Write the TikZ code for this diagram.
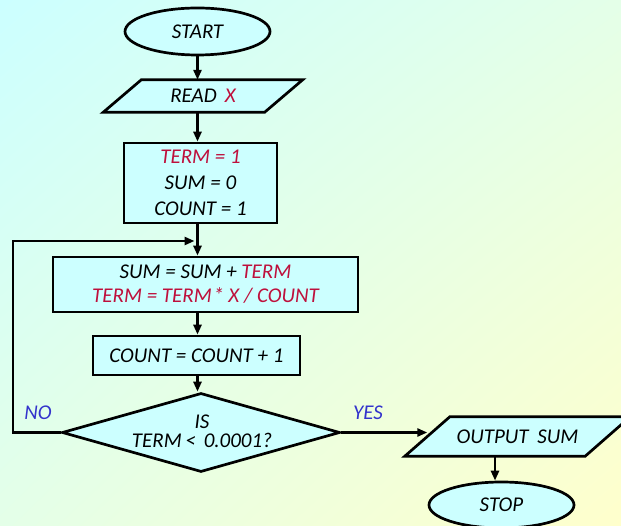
\documentclass[tikz,border=0pt]{standalone}
\usepackage{fontspec}
\setmainfont{Carlito}
\usetikzlibrary{shapes.geometric,arrows.meta,shadings,calc}

\definecolor{boxfill}{RGB}{204,255,255}
\definecolor{termred}{RGB}{190,16,60}
\definecolor{labelblue}{RGB}{51,51,204}
\definecolor{bgcyan}{RGB}{204,255,255}
\definecolor{bgmint}{RGB}{228,255,232}
\definecolor{bgyellow}{RGB}{255,255,204}

\newcommand{\hl}[1]{\textcolor{termred}{#1}}

\pgfdeclarelayer{back}
\pgfsetlayers{back,main}

\tikzset{
  outline/.style={draw=black, line width=2.7pt, fill=boxfill},
  flow/.style={outline, font=\itshape\fontsize{21}{25}\selectfont, align=center, inner sep=0pt},
  terminal/.style={flow, ellipse, minimum width=145pt, minimum height=47pt},
  process/.style={flow, rectangle},
  iotext/.style={rectangle, font=\itshape\fontsize{21}{25}\selectfont, inner sep=0pt},
  decision/.style={flow, diamond},
  txt/.style={font=\itshape\fontsize{21}{19}\selectfont, align=center, inner sep=0pt},
  ans/.style={font=\itshape\fontsize{21}{24}\selectfont, text=labelblue, inner sep=0pt},
  wire/.style={line width=2.7pt},
  link/.style={wire, -{Triangle[length=10pt,width=8pt]}},
}

% parallelogram behind an input/output node: #1 node name, #2 half slant
\newcommand{\ioframe}[2]{%
  \begin{pgfonlayer}{back}
    \filldraw[outline]
      ($(#1.north west)+(#2,0)$) -- ($(#1.north east)+(#2,0)$) --
      ($(#1.south east)+(-#2,0)$) -- ($(#1.south west)+(-#2,0)$) -- cycle;
  \end{pgfonlayer}}

\begin{document}
\begin{tikzpicture}[x=1pt, y=-1pt]
  % canvas and diagonal background wash
  \useasboundingbox (0,0) rectangle (621,526);
  \clip (0,0) rectangle (621,526);
  \begin{pgfonlayer}{back}
    \shade[upper left=bgcyan, upper right=bgmint, lower left=bgmint, lower right=bgyellow]
      (0,0) rectangle (621,526);
  \end{pgfonlayer}

  % flowchart blocks
  \node[terminal] (start) at (197.5,31.5) {START};
  \node[iotext, minimum width=161pt, minimum height=32pt] (read) at (203,96)
        {READ\hspace{8pt}\hl{X}};
  \ioframe{read}{19}
  \node[process, minimum width=153pt, minimum height=80pt,
        font=\itshape\fontsize{21}{26}\selectfont] (init) at (200.5,183)
        {\hl{TERM = 1}\\SUM = 0\\COUNT = 1};
  \node[process, minimum width=305pt, minimum height=55pt,
        font=\itshape\fontsize{21}{24}\selectfont] (loop) at (205.5,284.5)
        {SUM = SUM + \hl{TERM}\\\hl{TERM = TERM\hspace{1.5pt}* X / COUNT}};
  \node[process, minimum width=207pt, minimum height=39pt] (count) at (196.5,355.5)
        {COUNT = COUNT + 1};
  \node[decision, aspect=3.52, minimum width=278pt, minimum height=79pt] (test) at (201,432.5) {};
  \node[txt] (testtxt) at (202,431) {IS\\TERM\,<\hspace{8pt}0.0001?};
  \node[iotext, minimum width=180pt, minimum height=39pt] (out) at (517.5,436.5)
        {OUTPUT\hspace{4pt} SUM};
  \ioframe{out}{22.5}
  \node[terminal, minimum height=46pt] (stop) at (501.5,505) {STOP};

  % branch labels
  \node[ans] (no) at (38,413) {NO};
  \node[ans] (yes) at (368,413) {YES};

  % connectors
  \coordinate (merge) at (197.5,241);
  \coordinate (loopx) at (13,241);
  \coordinate (outfoot) at ($(out.south)+(-22.5,0)$);
  \draw[link] (start.south) -- (start.south |- read.north);
  \draw[link] (start.south |- read.south) -- (start.south |- init.north);
  \draw[wire] (start.south |- init.south) -- (merge);
  \draw[link] (merge) -- (start.south |- loop.north);
  \draw[link] (start.south |- loop.south) -- (start.south |- count.north);
  \draw[link] (start.south |- count.south) -- (start.south |- test.north);
  \draw[link, shorten >=3pt] (test.west) -| (loopx) -- (merge);
  \draw[link] (test.east) -- (test.east -| out.west);
  \draw[link] (outfoot) -- (outfoot |- stop.north);
\end{tikzpicture}
\end{document}
